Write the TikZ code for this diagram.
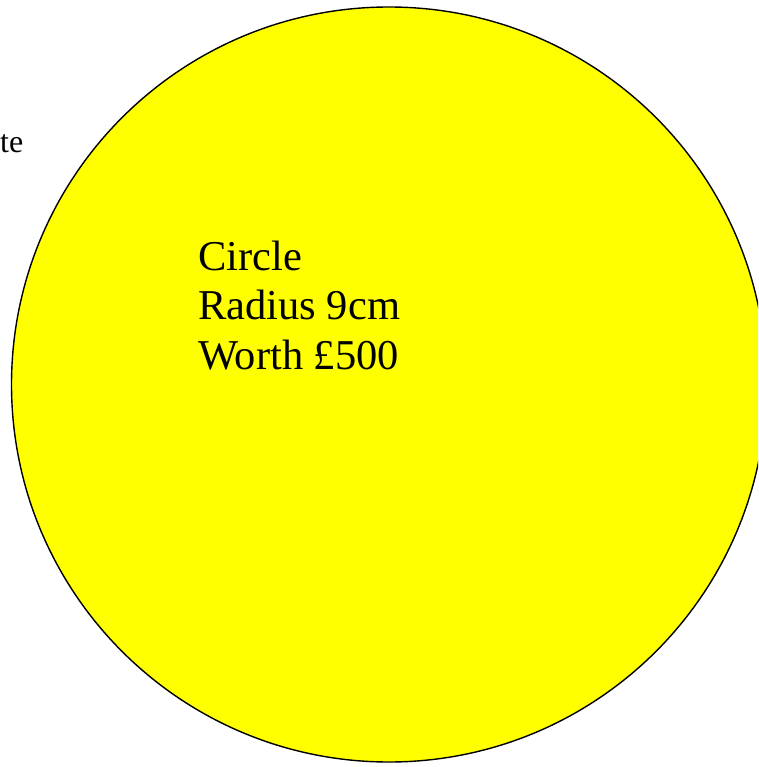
\documentclass[tikz,border=0pt]{standalone}
\usepackage{fontspec}
\setmainfont{Liberation Serif}
\definecolor{pureyellow}{RGB}{255,255,0}
\tikzset{
  bigcircle/.style={draw=black, fill=pureyellow, line width=1.4pt},
  bigtext/.style={font=\fontsize{42.5}{49.5}\selectfont, align=left, inner sep=0pt},
  sidetext/.style={font=\fontsize{32}{36}\selectfont, inner sep=0pt}
}
\begin{document}
\begin{tikzpicture}[x=1pt,y=-1pt]
\useasboundingbox (0,0) rectangle (758,767);
\clip (0,0) rectangle (758,767);
\node[bigcircle, circle, minimum size=755pt, inner sep=0pt] (c) at (389,384.5) {};
\node[bigtext, anchor=base west] (t) at (198,369) {Circle\\Radius 9cm\\Worth £500};
\node[sidetext, anchor=base east] (s) at (23.5,153) {te};
\end{tikzpicture}
\end{document}
